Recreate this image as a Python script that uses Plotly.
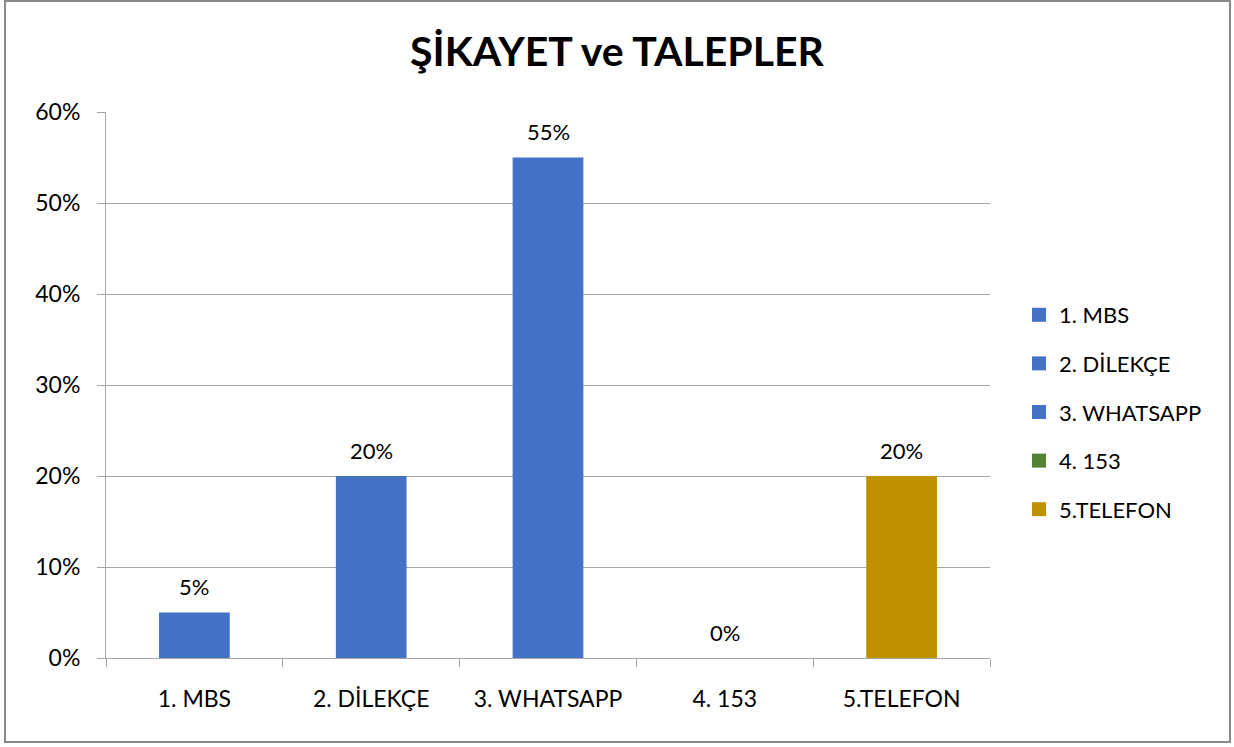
import plotly.graph_objects as go

categories = ["1. MBS", "2. DİLEKÇE", "3. WHATSAPP", "4. 153", "5.TELEFON"]
values = [0.05, 0.20, 0.55, 0.0, 0.20]
colors = ["#4472C4", "#4472C4", "#4472C4", "#548235", "#BF9000"]
y_ticks = [0, 0.1, 0.2, 0.3, 0.4, 0.5, 0.6]
title_text = "ŞİKAYET ve TALEPLER"

FONT = "Lato"
W, H = 1234, 747
L, T, PW, PH = 106, 112, 884, 546

fig = go.Figure()
for i, (c, v, col) in enumerate(zip(categories, values, colors)):
    fig.add_trace(go.Bar(
        x=[c], y=[v], name=c, marker=dict(color=col, line=dict(width=0)),
        width=0.4, showlegend=False, legendgroup=f"g{i}", hoverinfo="x+y",
    ))
    fig.add_annotation(
        x=c, y=v, xref="x", yref="y", text=f"{v*100:.0f}%",
        showarrow=False, yanchor="middle", yshift=26,
        font=dict(size=22, family=FONT, color="#000000"),
    )
for i, (c, col) in enumerate(zip(categories, colors)):
    fig.add_trace(go.Scatter(
        x=[None], y=[None], mode="markers", name=c,
        marker=dict(symbol="square", size=14, color=col),
        legendgroup=f"g{i}", showlegend=True,
    ))

fig.update_layout(
    width=W, height=H,
    margin=dict(l=L, r=W - L - PW, t=T, b=H - T - PH),
    paper_bgcolor="white", plot_bgcolor="white",
    barmode="overlay",
    font=dict(family=FONT, size=23, color="#000000"),
    title=dict(text=f"<b>{title_text}</b>", x=0.5, xanchor="center",
               y=1 - 52 / H, yanchor="middle",
               font=dict(size=41, family=FONT, color="#000000")),
    showlegend=True,
    legend=dict(x=(1019 - L) / PW, xanchor="left", y=(T + PH - 412) / PH, yanchor="middle",
                font=dict(size=22, family=FONT), tracegroupgap=17,
                bgcolor="rgba(0,0,0,0)"),
)
fig.update_xaxes(
    categoryorder="array", categoryarray=categories,
    showline=True, linecolor="#A6A6A6", linewidth=1,
    ticks="outside", tickson="boundaries", ticklen=8, tickcolor="#A6A6A6",
    ticklabelstandoff=20,
    showgrid=False, tickfont=dict(size=23, family=FONT), range=[-0.5, 4.5],
)
fig.update_yaxes(
    range=[0, 0.6], tickvals=y_ticks, tickformat=".0%",
    showline=True, linecolor="#A6A6A6", linewidth=1,
    ticks="outside", ticklen=8, tickcolor="#A6A6A6",
    ticklabelstandoff=12,
    showgrid=True, gridcolor="#A6A6A6", gridwidth=1, zeroline=False,
    tickfont=dict(size=23, family=FONT),
)
fig.add_shape(type="rect", xref="paper", yref="paper",
              x0=(5 - L) / PW, x1=(1230 - L) / PW,
              y0=(T + PH - 742) / PH, y1=(T + PH - 1) / PH,
              line=dict(color="#898989", width=2), fillcolor="rgba(0,0,0,0)", layer="below")
fig.write_html("out.html", config={"displayModeBar": False},
               post_script="document.body.style.margin='0';document.body.style.overflow='hidden';")
